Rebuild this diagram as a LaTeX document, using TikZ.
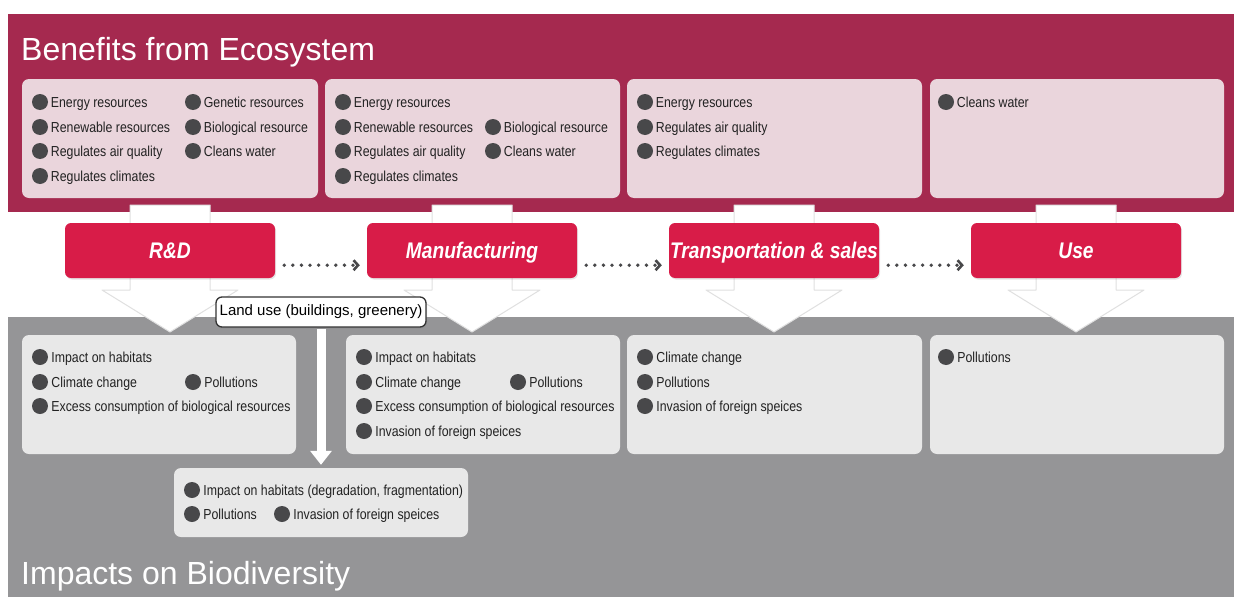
\documentclass[tikz,border=0pt]{standalone}
\usepackage{fontspec}
\setmainfont{Liberation Sans}
\newfontfamily\narrowsf[FakeStretch=0.85]{Liberation Sans}
\usepackage{tikz}
\usetikzlibrary{positioning}
\usetikzlibrary{arrows.meta}
\usetikzlibrary{shadows}

\definecolor{bandred}{RGB}{165,41,79}
\definecolor{boxpink}{RGB}{234,213,220}
\definecolor{stagered}{RGB}{216,28,72}
\definecolor{bandgray}{RGB}{149,149,151}
\definecolor{boxgray}{RGB}{232,232,232}
\definecolor{dotgray}{RGB}{72,72,74}
\definecolor{txtgray}{RGB}{34,34,34}

\begin{document}
\begin{tikzpicture}[x=1pt,y=-1pt,
    benbox/.style={fill=boxpink, rounded corners=7pt, inner sep=0pt, minimum height=119pt},
    impbox/.style={fill=boxgray, rounded corners=7pt, inner sep=0pt, minimum height=119pt},
    stage/.style={fill=stagered, rounded corners=6pt, minimum width=210pt, minimum height=55pt, inner sep=0pt,
        text=white, text height=16pt, text depth=0pt, font=\narrowsf\fontsize{22.6}{26}\selectfont\bfseries\itshape,
        drop shadow={shadow xshift=1pt, shadow yshift=-1.5pt, opacity=0.2}},
    dot/.style={circle, fill=dotgray, minimum size=16pt, inner sep=0pt},
    item/.style={inner sep=0pt, text=txtgray, text height=10.4pt, text depth=0pt, font=\narrowsf\fontsize{14.5}{17}\selectfont},
    flow/.style={draw=dotgray, line width=3.8pt, line cap=round, dash pattern=on 0pt off 8.6pt,
        -{Straight Barb[length=4.5pt,width=10pt,line width=2.6pt]}},
    bigarrow/.style={fill=white, draw=black!12, line width=1pt, line join=round},
    title/.style={text=white, inner sep=0pt, font=\fontsize{32}{37}\selectfont}]

    \useasboundingbox (0,0) rectangle (1234,597);
    \fill[white] (0,0) rectangle (1234,597);

    % benefits band
    \fill[bandred] (8,14) rectangle (1234,212);
    \node[title, anchor=base west] (bentitle) at (21,60) {Benefits from Ecosystem};
    \node[benbox, minimum width=296pt] (ben1) at (170,138.5) {};
    \node[benbox, minimum width=295pt] (ben2) at (472.5,138.5) {};
    \node[benbox, minimum width=295pt] (ben3) at (774.5,138.5) {};
    \node[benbox, minimum width=294pt] (ben4) at (1077,138.5) {};

    % impacts band
    \fill[bandgray] (8,317) rectangle (1234,597);
    \node[title, anchor=base west] (imptitle) at (21,584) {Impacts on Biodiversity};

    % white block arrows behind the stages
    \foreach \c in {170,472,774,1076}
        \draw[bigarrow] (\c-40,205) -- (\c+40,205) -- (\c+40,290) -- (\c+68,290) -- (\c,332)
            -- (\c-68,290) -- (\c-40,290) -- cycle;

    \node[stage] (rd) at (170,250.5) {R\&D};
    \node[stage] (mf) at (472,250.5) {Manufacturing};
    \node[stage] (ts) at (774,250.5) {Transportation \& sales};
    \node[stage] (enduse) at (1076,250.5) {Use};

    \draw[flow] ([xshift=9pt,yshift=13pt]rd.south east) -- ([xshift=-7pt,yshift=13pt]mf.south west);
    \draw[flow] ([xshift=9pt,yshift=13pt]mf.south east) -- ([xshift=-7pt,yshift=13pt]ts.south west);
    \draw[flow] ([xshift=9pt,yshift=13pt]ts.south east) -- ([xshift=-7pt,yshift=13pt]enduse.south west);

    \node[impbox, minimum width=274pt] (imp1) at (159,394.5) {};
    \node[impbox, minimum width=274pt] (imp2) at (483,394.5) {};
    \node[impbox, minimum width=295pt] (imp3) at (774.5,394.5) {};
    \node[impbox, minimum width=294pt] (imp4) at (1077,394.5) {};
    \node[impbox, minimum width=294pt, minimum height=69pt] (imp5) at (321,502.5) {};

    % land use
    \node[fill=white, draw=black!80, line width=1.3pt, rounded corners=6pt, minimum width=210pt, minimum height=30pt,
        inner sep=0pt, text height=10.7pt, text depth=3pt, font=\fontsize{15}{18}\selectfont,
        drop shadow={shadow xshift=1pt, shadow yshift=-1.5pt, opacity=0.25}] (land) at (321,312) {Land use (buildings, greenery)};
    \draw[white, line width=9pt, -{Triangle[width=21pt,length=14pt]}, shorten <=1pt, shorten >=3pt] (land.south) -- (imp5.north);

    % benefit items
    \foreach \x/\y/\t [count=\i] in {40/102/Energy resources, 40/127/Renewable resources, 40/151/Regulates air quality,
        40/176/Regulates climates, 193/102/Genetic resources, 193/127/Biological resource, 193/151/Cleans water,
        343/102/Energy resources, 343/127/Renewable resources, 343/151/Regulates air quality, 343/176/Regulates climates,
        493/127/Biological resource, 493/151/Cleans water,
        645/102/Energy resources, 645/127/Regulates air quality, 645/151/Regulates climates,
        946/102/Cleans water}
    {
        \node[dot] (bd\i) at (\x,\y) {};
        \node[item, right=2.5pt of bd\i] (bt\i) {\t};
    }

    % impact items
    \foreach \x/\y/\t [count=\i] in {40/357/Impact on habitats, 40/382/Climate change,
        40/406/Excess consumption of biological resources, 193/382/Pollutions,
        364/357/Impact on habitats, 364/382/Climate change, 364/406/Excess consumption of biological resources,
        364/431/Invasion of foreign speices, 518/382/Pollutions,
        645/357/Climate change, 645/382/Pollutions, 645/406/Invasion of foreign speices,
        946/357/Pollutions,
        {192/490/Impact on habitats (degradation, fragmentation)}, 192/514/Pollutions, 282/514/Invasion of foreign speices}
    {
        \node[dot] (id\i) at (\x,\y) {};
        \node[item, right=3pt of id\i] (it\i) {\t};
    }
\end{tikzpicture}
\end{document}
